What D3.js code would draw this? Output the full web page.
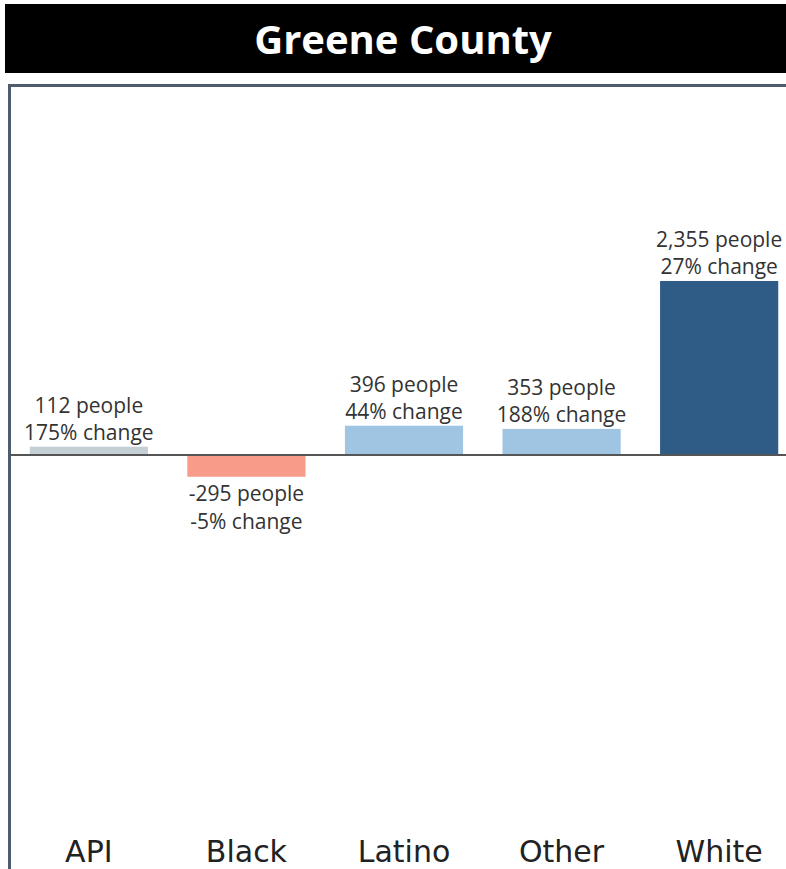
<!DOCTYPE html>
<html>
<head>
<meta charset="utf-8">
<script src="https://cdn.jsdelivr.net/npm/d3@7"></script>
<style>
body{margin:0;background:#fff;}
svg{display:block;}
</style>
</head>
<body>
<div id="chart"></div>
<script>
var title = "Greene County";
var groups = ["API", "Black", "Latino", "Other", "White"];
var people = [112, -295, 396, 353, 2355];
var pctChange = [175, -5, 44, 188, 27];
var barColors = ["#c4cfd6", "#f89c89", "#9fc5e2", "#9fc5e2", "#2f5b87"];

var svgWidth = 786, svgHeight = 869;

var svg = d3.select("#chart").append("svg")
    .attr("width", svgWidth)
    .attr("height", svgHeight);

// title band
svg.append("rect")
   .attr("x", 5).attr("y", 4)
   .attr("width", svgWidth - 5).attr("height", 69)
   .attr("fill", "#000");
svg.append("text")
   .attr("x", 403).attr("y", 54)
   .attr("text-anchor", "middle")
   .attr("fill", "#fff")
   .attr("font-family", "Open Sans")
   .attr("font-weight", "bold")
   .attr("font-size", "40px")
   .text(title);

// frame
svg.append("path")
   .attr("d", `M9.5,${svgHeight} V85.5 H${svgWidth}`)
   .attr("fill", "none")
   .attr("stroke", "#4e5c70")
   .attr("stroke-width", 3);

var xscale = d3.scaleBand().domain(groups).range([14, 794]).paddingInner(0.25).paddingOuter(0.1);
var yscale = d3.scaleLinear().domain([-4670, 4940]).range([800, 90]);

var data = groups.map((g, i) => ({g: g, v: people[i], p: pctChange[i], c: barColors[i]}));

var chartGroup = svg.append("g");

chartGroup.selectAll("rect.bar")
   .data(data)
   .enter()
   .append("rect")
   .attr("class", "bar")
   .attr("x", d => xscale(d.g))
   .attr("width", xscale.bandwidth())
   .attr("y", d => yscale(Math.max(0, d.v)))
   .attr("height", d => Math.abs(yscale(d.v) - yscale(0)))
   .attr("fill", d => d.c);

// zero line
chartGroup.append("line")
   .attr("x1", 10).attr("x2", svgWidth)
   .attr("y1", yscale(0)).attr("y2", yscale(0))
   .attr("stroke", "#555").attr("stroke-width", 2);

var fmt = d3.formatLocale({decimal: ".", thousands: ",", grouping: [3], currency: ["$", ""], minus: "-"}).format(",");
data.forEach(function(d){
    var cx = xscale(d.g) + xscale.bandwidth() / 2;
    var y1, y2;
    if (d.v >= 0) {
        y2 = yscale(d.v) - 7;
        y1 = y2 - 27;
    } else {
        y1 = yscale(d.v) + 24;
        y2 = y1 + 28;
    }
    var t = chartGroup.append("text")
       .attr("text-anchor", "middle")
       .attr("fill", "#333")
       .attr("font-family", "Open Sans")
       .attr("font-size", "21px");
    t.append("tspan").attr("x", cx).attr("y", y1).text(fmt(d.v) + " people");
    t.append("tspan").attr("x", cx).attr("y", y2).text(d.p + "% change");
});

// category labels
chartGroup.selectAll("text.cat")
   .data(groups)
   .enter()
   .append("text")
   .attr("class", "cat")
   .attr("x", d => xscale(d) + xscale.bandwidth() / 2)
   .attr("y", 862)
   .attr("text-anchor", "middle")
   .attr("fill", "#222")
   .attr("font-family", "DejaVu Sans")
   .attr("font-size", "30px")
   .text(d => d);
</script>
</body>
</html>
